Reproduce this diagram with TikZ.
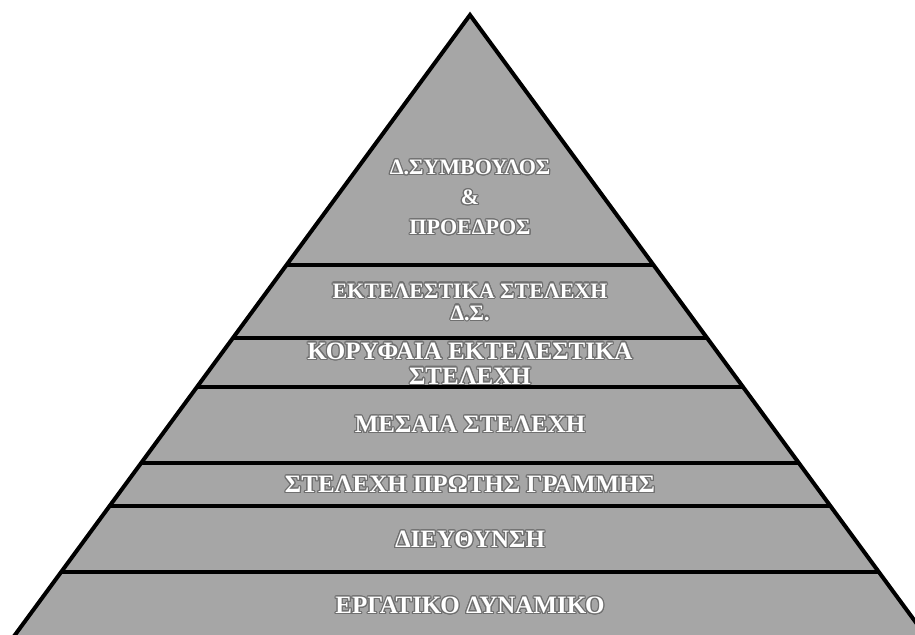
\documentclass[tikz,border=0pt]{standalone}
\usepackage{fontspec}
\setmainfont{Liberation Serif}
\usepackage[copies]{contour}
\contourlength{0.6pt}
\definecolor{layergray}{HTML}{A6A6A6}
\definecolor{glowgray}{HTML}{707070}
\newcommand{\glow}[1]{\contour{glowgray}{#1}}
\tikzset{
  leveltext/.style={text=white, align=center, inner sep=0pt,
    font=\bfseries\fontsize{12.5}{14}\selectfont},
  smalltext/.style={leveltext, font=\bfseries\fontsize{11}{11}\selectfont}
}
\begin{document}
\begin{tikzpicture}[x=0.5pt,y=-0.5pt]
\useasboundingbox (0,0) rectangle (915,635);
\clip (0,0) rectangle (915,635);
\fill[layergray] (470,15)--(11.25,640)--(928.75,640)--cycle; % Pyramide
\begin{scope}
\clip (470,15)--(11.25,640)--(928.75,640)--cycle;
\foreach \y in {265,338,387,463,506,572}
  \draw[line width=2pt] (0,\y)--(915,\y); % Trennlinien der Ebenen
\end{scope}
\draw[line width=2pt] (11.25,640)--(470,15)--(928.75,640);
\node[smalltext, font=\bfseries\fontsize{11}{15}\selectfont] (ceo) at (470,198)
  {\glow{Δ.ΣΥΜΒΟΥΛΟΣ}\\\glow{\&}\\\glow{ΠΡΟΕΔΡΟΣ}};
\node[smalltext] (board) at (470,302.5) {\glow{ΕΚΤΕΛΕΣΤΙΚΑ ΣΤΕΛΕΧΗ}\\\glow{Δ.Σ.}};
\node[leveltext, font=\bfseries\fontsize{12.5}{12.5}\selectfont] (senior) at (470,364)
  {\glow{ΚΟΡΥΦΑΙΑ ΕΚΤΕΛΕΣΤΙΚΑ}\\\glow{ΣΤΕΛΕΧΗ}};
\node[leveltext] (middle) at (470,425) {\glow{ΜΕΣΑΙΑ ΣΤΕΛΕΧΗ}};
\node[leveltext] (firstline) at (470,485) {\glow{ΣΤΕΛΕΧΗ ΠΡΩΤΗΣ ΓΡΑΜΜΗΣ}};
\node[leveltext] (direction) at (470,540) {\glow{ΔΙΕΥΘΥΝΣΗ}};
\node[leveltext] (workforce) at (470,606) {\glow{ΕΡΓΑΤΙΚΟ ΔΥΝΑΜΙΚΟ}};
\end{tikzpicture}
\end{document}
